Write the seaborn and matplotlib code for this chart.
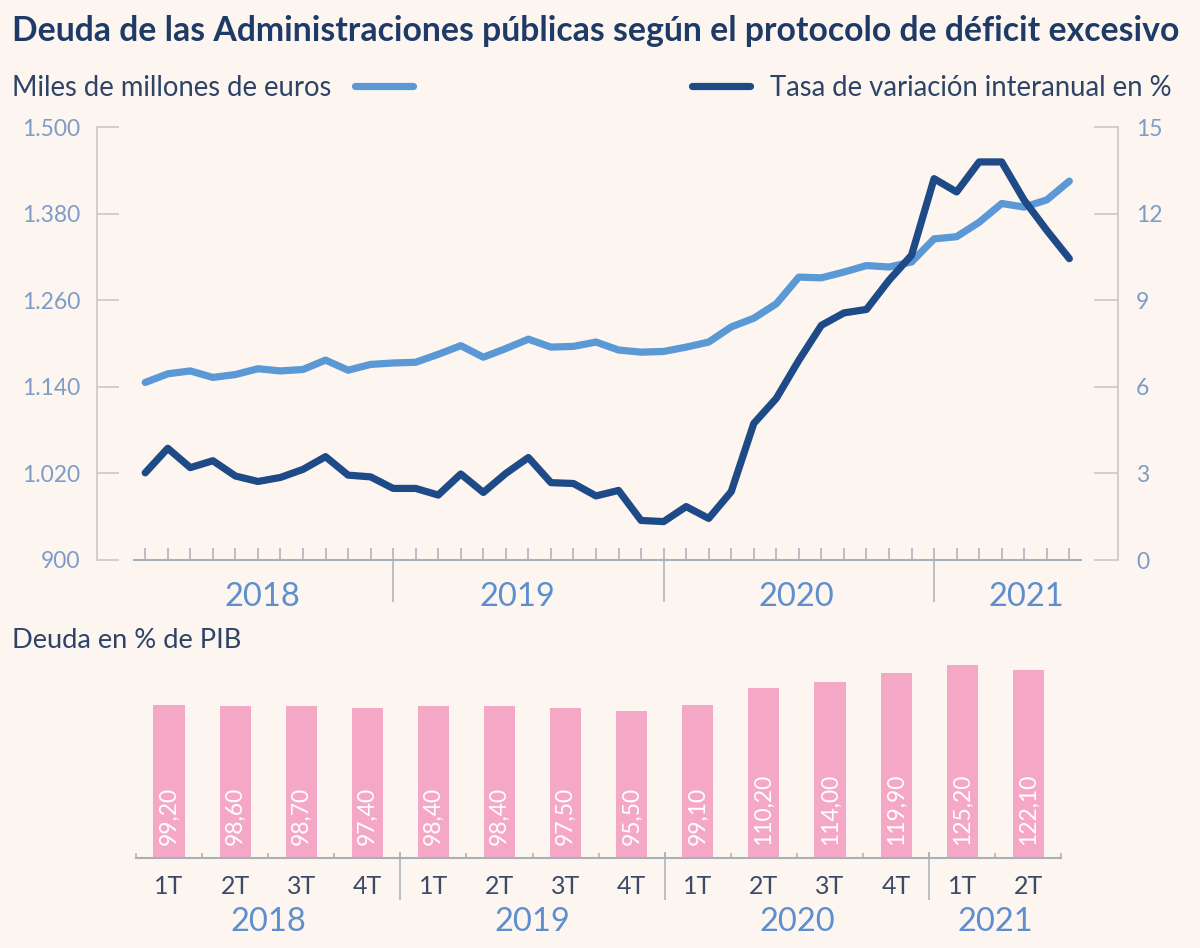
import numpy as np
import pandas as pd
import matplotlib
matplotlib.use("Agg")
from matplotlib import pyplot as plt
from matplotlib.lines import Line2D
from matplotlib.ticker import FixedLocator, FuncFormatter
import seaborn as sns


# monthly series, Jan 2018 - Jun 2021
years = [2018] * 12 + [2019] * 12 + [2020] * 12 + [2021] * 6
months = list(range(1, 13)) * 3 + list(range(1, 7))
deuda = [1146, 1158, 1162, 1153, 1157, 1165, 1162, 1164, 1177, 1163, 1171, 1173,
         1174, 1185, 1197, 1181, 1193, 1206, 1195, 1196, 1202, 1191, 1188, 1189,
         1195, 1202, 1223, 1235, 1255, 1292, 1291, 1299, 1308, 1306, 1313, 1345,
         1348, 1368, 1394, 1389, 1399, 1425]
tasa = [3.02, 3.87, 3.20, 3.44, 2.91, 2.72, 2.86, 3.14, 3.58, 2.94, 2.88, 2.48,
        2.48, 2.25, 2.98, 2.34, 3.00, 3.55, 2.68, 2.65, 2.22, 2.41, 1.37, 1.33,
        1.85, 1.44, 2.37, 4.73, 5.60, 6.92, 8.13, 8.56, 8.68, 9.69, 10.56, 13.21,
        12.75, 13.79, 13.79, 12.46, 11.42, 10.44]

# quarterly debt in % of GDP
trimestres = ["1T", "2T", "3T", "4T"] * 3 + ["1T", "2T"]
anios_trim = [2018] * 4 + [2019] * 4 + [2020] * 4 + [2021] * 2
pib = [99.2, 98.6, 98.7, 97.4, 98.4, 98.4, 97.5, 95.5, 99.1, 110.2, 114.0, 119.9, 125.2, 122.1]

anios = [2018, 2019, 2020, 2021]
pos_anio_linea = [5.2, 16.5, 28.9, 39.1]

BG = "#FDF5EF"
LIGHT = "#5B98D6"
DARK = "#1E4B87"
PINK = "#F5A8C5"
TITLE_C = "#1E3A66"
TXT = "#2D4468"
TICK_C = "#7E9CC8"
YEAR_C = "#5D8FCF"
AXC = "#A9B1B8"
SPINE_C = "#C9C9C9"

sns.set_theme(style="white", rc={"figure.facecolor": BG, "axes.facecolor": BG})
plt.rcParams["font.family"] = ["Lato", "DejaVu Sans"]

fig = plt.figure(figsize=(12, 9.48), dpi=100)

# ---- top panel: lines
df = pd.DataFrame({"idx": np.arange(len(deuda)), "deuda": deuda, "tasa": tasa,
                   "anio": years, "mes": months})

ax = fig.add_axes([97 / 1200, 1 - 560 / 948, (1118 - 97) / 1200, 433 / 948])
ax2 = ax.twinx()

sns.lineplot(data=df, x="idx", y="deuda", ax=ax, color=LIGHT, linewidth=5.2,
             solid_capstyle="round", solid_joinstyle="round")
sns.lineplot(data=df, x="idx", y="tasa", ax=ax2, color=DARK, linewidth=5.2,
             solid_capstyle="round", solid_joinstyle="round")

ax.set_xlim(-2.14, 43.16)
ax.set_ylim(900, 1500)
ax2.set_ylim(0, 15)
ax.set_xlabel("")
ax.set_ylabel("")
ax2.set_ylabel("")

ax.set_yticks(np.arange(900, 1501, 120))
ax.yaxis.set_major_formatter(FuncFormatter(lambda v, _: f"{v:,.0f}".replace(",", ".")))
ax2.set_yticks(np.arange(0, 16, 3))

for s in ["top", "right"]:
    ax.spines[s].set_visible(False)
for s in ["top", "left", "bottom"]:
    ax2.spines[s].set_visible(False)
ax.spines["left"].set_color(SPINE_C)
ax.spines["left"].set_linewidth(1.2)
ax2.spines["right"].set_color(SPINE_C)
ax2.spines["right"].set_linewidth(1.2)
ax.spines["bottom"].set_bounds(-0.5, 41.5)
ax.spines["bottom"].set_color(AXC)
ax.spines["bottom"].set_linewidth(1.5)

ax.tick_params(axis="y", direction="in", length=16, width=1.2, color=SPINE_C,
               pad=12, labelsize=16.5, labelcolor=TICK_C, left=True)
ax2.tick_params(axis="y", direction="in", length=17, width=1.2, color=SPINE_C,
                pad=13, labelsize=16.5, labelcolor=TICK_C, right=True)

ax.xaxis.set_minor_locator(FixedLocator(df["idx"]))
ax.xaxis.set_major_locator(FixedLocator(df.loc[df["mes"] == 12, "idx"]))
ax.xaxis.remove_overlapping_locs = False
ax.tick_params(axis="x", which="minor", direction="in", length=8.6, width=1.1,
               color=AXC, bottom=True)
ax.tick_params(axis="x", which="major", direction="out", length=30, width=1.1,
               color=AXC, bottom=True, labelbottom=False)

for anio, xp in zip(anios, pos_anio_linea):
    ax.text(xp, -0.0855, str(anio), transform=ax.get_xaxis_transform(),
            ha="center", va="center", fontsize=23.5, color=YEAR_C)

# ---- bottom panel: bars
bdf = pd.DataFrame({"periodo": [f"{t} {a}" for t, a in zip(trimestres, anios_trim)],
                    "trim": trimestres, "anio": anios_trim, "pib": pib})

bx = fig.add_axes([97 / 1200, 1 - 858 / 948, (1118 - 97) / 1200, 208 / 948])
sns.barplot(data=bdf, x="periodo", y="pib", color=PINK, saturation=1, width=0.47,
            linewidth=0, ax=bx)
bx.set_xlim(-1.089, 14.357)
bx.set_ylim(0, 134.8)
bx.set_xlabel("")
bx.set_ylabel("")
bx.set_yticks([])

for s in ["top", "right", "left"]:
    bx.spines[s].set_visible(False)
bx.spines["bottom"].set_bounds(-0.5, len(pib) - 0.5)
bx.spines["bottom"].set_color(AXC)
bx.spines["bottom"].set_linewidth(1.5)

n = len(pib)
bx.xaxis.set_major_locator(FixedLocator(np.arange(n + 1) - 0.5))
bx.xaxis.set_major_formatter(FuncFormatter(lambda v, _: ""))
bx.xaxis.set_minor_locator(FixedLocator(np.arange(n)))
bx.xaxis.set_minor_formatter(FuncFormatter(lambda v, _: trimestres[int(round(v))]))
bx.tick_params(axis="x", which="major", direction="in", length=3.5, width=1.1,
               color=AXC, bottom=True)
bx.tick_params(axis="x", which="minor", length=0, pad=12.5, labelsize=18,
               labelcolor="#3A4A68", bottom=True)

cambios = [i + 0.5 for i in range(n - 1) if anios_trim[i] != anios_trim[i + 1]]
bx.vlines(cambios, -0.2, 0.03, transform=bx.get_xaxis_transform(),
          color=AXC, linewidth=1.1, clip_on=False)

for i, v in enumerate(pib):
    bx.text(i, 8.4, f"{v:.2f}".replace(".", ","), rotation=90, ha="center",
            va="bottom", color="white", fontsize=16.5)

for anio in anios:
    xs = [i for i, a in enumerate(anios_trim) if a == anio]
    bx.text(np.mean(xs), -0.308, str(anio), transform=bx.get_xaxis_transform(),
            ha="center", va="center", fontsize=23.5, color=YEAR_C)

# ---- texts and legend swatches
fig.text(12 / 1200, 1 - 31 / 948,
         "Deuda de las Administraciones públicas según el protocolo de déficit excesivo",
         ha="left", va="center", fontsize=24.3, fontweight="bold", color=TITLE_C)
fig.text(12 / 1200, 1 - 640 / 948, "Deuda en % de PIB", ha="left", va="center",
         fontsize=19.6, color=TXT)

h1 = Line2D([], [], color=LIGHT, linewidth=5.2, solid_capstyle="round")
h2 = Line2D([], [], color=DARK, linewidth=5.2, solid_capstyle="round")
fig.legend(handles=[h1], labels=["Miles de millones de euros"], loc="center left",
           bbox_to_anchor=(12 / 1200, 1 - 88 / 948), frameon=False, markerfirst=False,
           handlelength=2.1, handletextpad=0.85, borderpad=0, borderaxespad=0,
           fontsize=19.8, labelcolor=TXT)
fig.legend(handles=[h2], labels=["Tasa de variación interanual en %"], loc="center right",
           bbox_to_anchor=(1172 / 1200, 1 - 88 / 948), frameon=False, markerfirst=True,
           handlelength=2.1, handletextpad=0.75, borderpad=0, borderaxespad=0,
           fontsize=19.8, labelcolor=TXT)

fig.savefig("out.png", dpi=100, facecolor=BG)
